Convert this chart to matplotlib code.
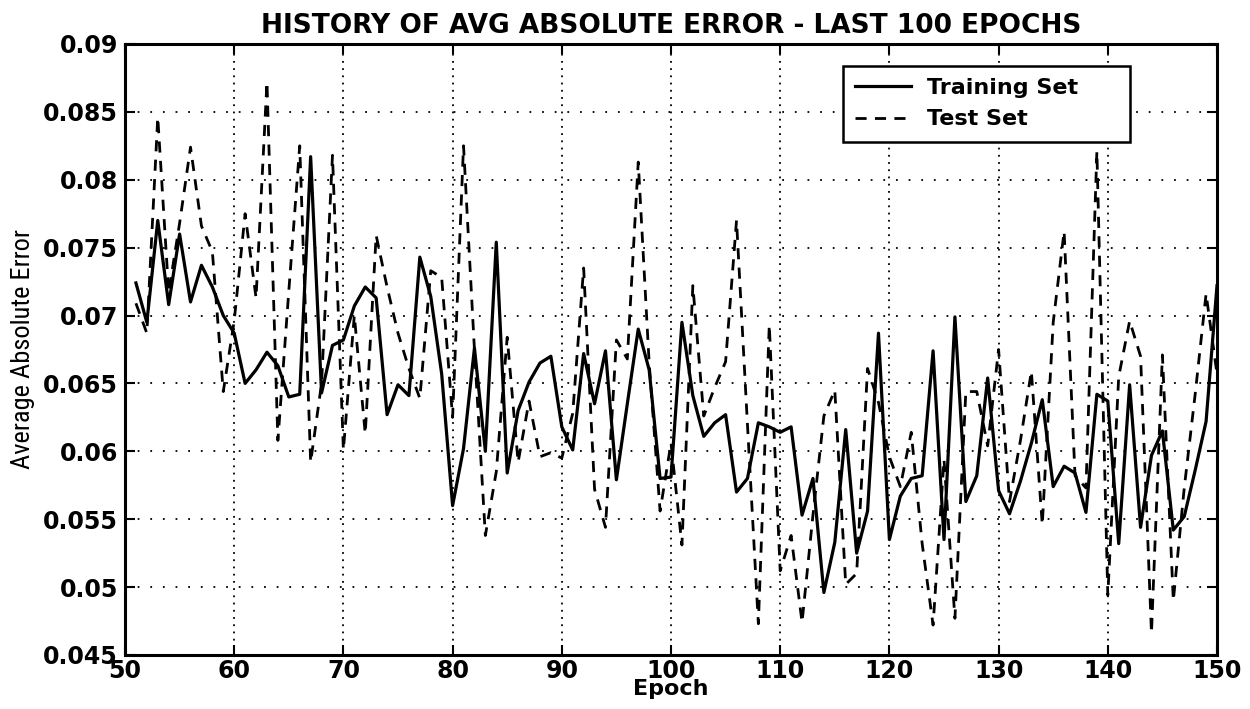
import numpy as np
import matplotlib
matplotlib.use('Agg')
import matplotlib.pyplot as plt
from matplotlib import font_manager

epochs = np.arange(51, 151)

train_err = [0.0724, 0.0695, 0.0770, 0.0708, 0.0760, 0.0710, 0.0737, 0.0721, 0.0700, 0.0687,
             0.0650, 0.0660, 0.0673, 0.0663, 0.0640, 0.0642, 0.0817, 0.0643, 0.0678, 0.0682,
             0.0707, 0.0721, 0.0713, 0.0627, 0.0649, 0.0641, 0.0743, 0.0714, 0.0657, 0.0560,
             0.0602, 0.0676, 0.0600, 0.0754, 0.0584, 0.0630, 0.0651, 0.0665, 0.0670, 0.0618,
             0.0601, 0.0672, 0.0635, 0.0674, 0.0579, 0.0635, 0.0690, 0.0660, 0.0580, 0.0581,
             0.0695, 0.0641, 0.0611, 0.0621, 0.0627, 0.0570, 0.0580, 0.0621, 0.0618, 0.0614,
             0.0618, 0.0553, 0.0580, 0.0496, 0.0533, 0.0616, 0.0525, 0.0556, 0.0687, 0.0535,
             0.0567, 0.0580, 0.0582, 0.0674, 0.0535, 0.0699, 0.0563, 0.0582, 0.0654, 0.0571,
             0.0554, 0.0578, 0.0606, 0.0638, 0.0574, 0.0589, 0.0584, 0.0555, 0.0642, 0.0637,
             0.0532, 0.0649, 0.0544, 0.0597, 0.0615, 0.0542, 0.0552, 0.0586, 0.0622, 0.0722]

test_err = [0.0709, 0.0687, 0.0846, 0.0717, 0.0768, 0.0824, 0.0766, 0.0747, 0.0644, 0.0696,
            0.0775, 0.0713, 0.0872, 0.0608, 0.0718, 0.0825, 0.0592, 0.0650, 0.0818, 0.0601,
            0.0700, 0.0613, 0.0759, 0.0721, 0.0687, 0.0661, 0.0639, 0.0733, 0.0728, 0.0625,
            0.0825, 0.0675, 0.0538, 0.0585, 0.0684, 0.0592, 0.0637, 0.0596, 0.0599, 0.0595,
            0.0628, 0.0735, 0.0572, 0.0544, 0.0682, 0.0668, 0.0813, 0.0665, 0.0556, 0.0606,
            0.0531, 0.0722, 0.0626, 0.0647, 0.0666, 0.0770, 0.0620, 0.0473, 0.0693, 0.0512,
            0.0538, 0.0474, 0.0553, 0.0626, 0.0645, 0.0502, 0.0510, 0.0661, 0.0636, 0.0596,
            0.0574, 0.0614, 0.0532, 0.0472, 0.0594, 0.0477, 0.0644, 0.0644, 0.0604, 0.0675,
            0.0563, 0.0608, 0.0659, 0.0546, 0.0695, 0.0762, 0.0582, 0.0573, 0.0821, 0.0494,
            0.0655, 0.0696, 0.0670, 0.0466, 0.0671, 0.0490, 0.0573, 0.0642, 0.0716, 0.0657]

xticks = [50, 60, 70, 80, 90, 100, 110, 120, 130, 140, 150]
yticks = [0.045, 0.05, 0.055, 0.06, 0.065, 0.07, 0.075, 0.08, 0.085, 0.09]
ytick_labels = ['0.045', '0.05', '0.055', '0.06', '0.065', '0.07', '0.075', '0.08', '0.085', '0.09']

# narrow face for the y label if one is around
ylabel_font = 'Liberation Sans'
for name in ['Liberation Sans Narrow', 'Roboto Condensed', 'DejaVu Sans Condensed']:
    try:
        font_manager.findfont(name, fallback_to_default=False)
        ylabel_font = name
        break
    except ValueError:
        pass

fig = plt.figure(figsize=(12.5, 7.09), dpi=100)
ax = fig.add_axes([0.100, 0.0762, 0.8736, 0.8618])

ax.plot(epochs, train_err, color='k', linewidth=2.3, linestyle='-', label='Training Set')
ax.plot(epochs, test_err, color='k', linewidth=2.0, linestyle=(0, (4, 3)), label='Test Set')

ax.set_xlim(50, 150)
ax.set_ylim(0.045, 0.09)
ax.set_xticks(xticks)
ax.set_yticks(yticks)
ax.set_yticklabels(ytick_labels)
ax.tick_params(direction='in', length=7, width=1.5, top=True, right=True)
ax.tick_params(axis='x', pad=3)
ax.tick_params(axis='y', pad=5)
for lab in ax.get_xticklabels() + ax.get_yticklabels():
    lab.set_fontweight('bold')
    lab.set_fontsize(17)
for s in ax.spines.values():
    s.set_linewidth(2.2)

# vertical grid dots are packed tighter than the horizontal ones
ax.xaxis.grid(True, color='k', linestyle=(0, (1, 3)), linewidth=1.3)
ax.yaxis.grid(True, color='k', linestyle=(0, (1, 6)), linewidth=1.3)

ax.set_title('HISTORY OF AVG ABSOLUTE ERROR - LAST 100 EPOCHS', fontsize=19, fontweight='bold', pad=8)
ax.set_xlabel('Epoch', fontsize=16, fontweight='bold')
ax.xaxis.set_label_coords(0.5, -0.040)
ax.set_ylabel('Average Absolute Error', fontsize=19, family=ylabel_font, labelpad=6)

leg = ax.legend(loc='upper left', bbox_to_anchor=(0.6575, 0.8396, 0.2625, 0.1244),
                mode='expand', borderaxespad=0, fancybox=False, edgecolor='k', framealpha=1,
                handlelength=2.5, handletextpad=0.75, borderpad=0.55, labelspacing=0.5,
                prop={'weight': 'bold', 'size': 16})
leg.get_frame().set_linewidth(1.8)

plt.savefig('out.png', dpi=100)
